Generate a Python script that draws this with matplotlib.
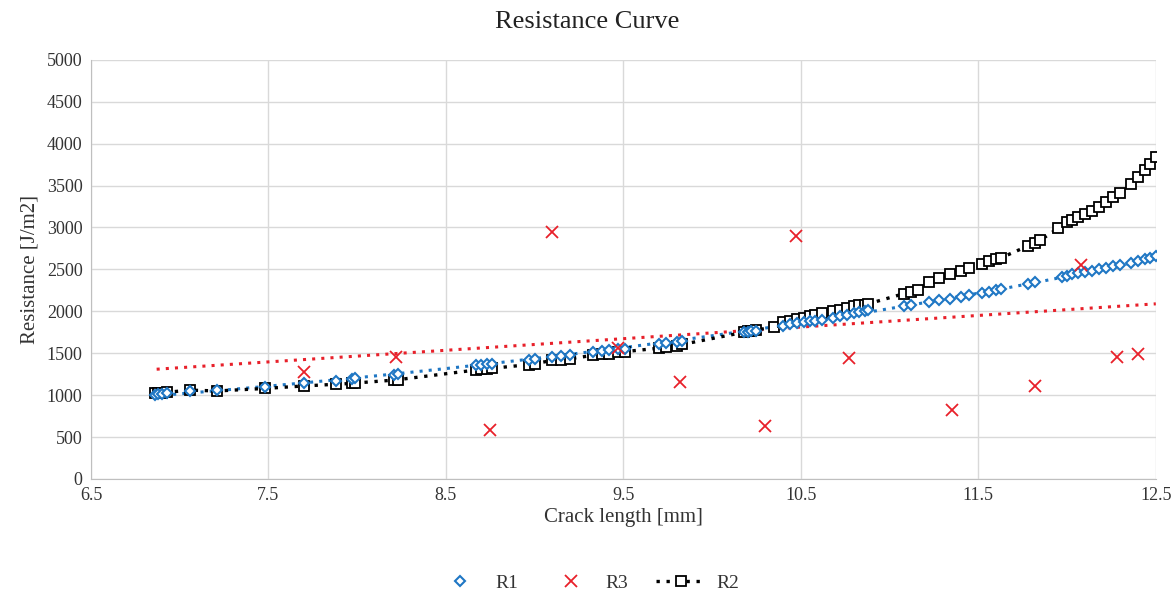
import numpy as np
import matplotlib
matplotlib.use("Agg")
import matplotlib.pyplot as plt
from matplotlib.lines import Line2D

plt.rcParams['font.family'] = ['Liberation Serif', 'DejaVu Serif']

# ---------------- data ----------------
r1_x = [6.86, 6.88, 6.90, 6.93, 7.06, 7.21, 7.48, 7.70, 7.88, 7.97, 7.99, 8.21, 8.23,
        8.67, 8.70, 8.73, 8.76, 8.97, 9.00, 9.10, 9.15, 9.20, 9.33, 9.38, 9.42, 9.47,
        9.51, 9.70, 9.74, 9.80, 9.83, 10.18, 10.20, 10.22, 10.25, 10.40, 10.44, 10.48,
        10.52, 10.55, 10.58, 10.62, 10.68, 10.72, 10.76, 10.80, 10.83, 10.86, 10.88,
        11.08, 11.12, 11.22, 11.28, 11.34, 11.40, 11.45, 11.52, 11.56, 11.60, 11.63,
        11.78, 11.82, 11.97, 12.00, 12.03, 12.06, 12.10, 12.14, 12.18, 12.22, 12.26,
        12.30, 12.36, 12.40, 12.44, 12.47, 12.50]
r1_y = [1005, 1010, 1015, 1020, 1045, 1060, 1100, 1140, 1170, 1195, 1200, 1245, 1250,
        1360, 1365, 1370, 1375, 1425, 1430, 1455, 1465, 1475, 1515, 1525, 1535, 1545,
        1555, 1610, 1620, 1640, 1650, 1750, 1755, 1760, 1770, 1830, 1845, 1855,
        1870, 1880, 1890, 1900, 1925, 1940, 1955, 1980, 1990, 2000, 2010,
        2060, 2075, 2110, 2130, 2150, 2170, 2190, 2215, 2230, 2250, 2265,
        2330, 2350, 2410, 2425, 2440, 2455, 2470, 2485, 2500, 2515, 2535,
        2555, 2580, 2600, 2620, 2640, 2660]

r2_x = [6.86, 6.88, 6.90, 6.93, 7.06, 7.21, 7.48, 7.70, 7.88, 7.97, 7.99, 8.21, 8.23,
        8.67, 8.70, 8.73, 8.76, 8.97, 9.00, 9.10, 9.15, 9.20, 9.33, 9.38, 9.42, 9.47,
        9.51, 9.70, 9.74, 9.80, 9.83, 10.18, 10.20, 10.22, 10.25, 10.35, 10.40, 10.44,
        10.48, 10.52, 10.55, 10.58, 10.62, 10.68, 10.72, 10.76, 10.80, 10.83, 10.86,
        10.88, 11.08, 11.12, 11.16, 11.22, 11.28, 11.34, 11.40, 11.45, 11.52, 11.56,
        11.60, 11.63, 11.78, 11.82, 11.85, 11.95, 12.00, 12.03, 12.06, 12.10, 12.14,
        12.18, 12.22, 12.26, 12.30, 12.36, 12.40, 12.44, 12.47, 12.50]
r2_y = [1025, 1030, 1030, 1035, 1060, 1050, 1080, 1110, 1130, 1140, 1145, 1180, 1185,
        1300, 1310, 1315, 1320, 1365, 1375, 1415, 1425, 1435, 1475, 1485, 1495, 1510,
        1520, 1560, 1575, 1590, 1605, 1750, 1760, 1765, 1780, 1810, 1870, 1890,
        1910, 1925, 1940, 1955, 1975, 2000, 2020, 2040, 2060, 2070, 2080,
        2090, 2210, 2230, 2250, 2350, 2400, 2440, 2480, 2520, 2570, 2600,
        2620, 2640, 2780, 2820, 2850, 2990, 3060, 3090, 3120, 3160, 3200,
        3240, 3300, 3360, 3410, 3520, 3600, 3680, 3760, 3840]

r3_x = [7.70, 8.22, 8.75, 9.10, 9.47, 9.82, 10.30, 10.47, 10.77, 11.35, 11.82, 12.08, 12.28, 12.40]
r3_y = [1280, 1460, 590, 2950, 1560, 1160, 630, 2900, 1440, 820, 1110, 2550, 1450, 1490]

# linear trend of R3 (slope, intercept)
r3_trend = (138.5, 358.0)

x_ticks = [6.5, 7.5, 8.5, 9.5, 10.5, 11.5, 12.5]
y_ticks = list(range(0, 5001, 500))

blue = '#1F77C4'
red = '#E8202A'
txt = '#333333'

fig = plt.figure(figsize=(11.74, 5.98), dpi=100)
ax = fig.add_axes([0.0775, 0.199, 0.907, 0.701])

# R1 exponential trend
c = np.polyfit(r1_x, np.log(r1_y), 1)
tx = np.linspace(min(r1_x), max(r1_x), 200)
ax.plot(tx, np.exp(np.polyval(c, tx)), color=blue, ls=(0, (1, 2)), lw=2.2, zorder=3)

# R3 linear trend
tx3 = np.linspace(6.87, 12.5, 50)
ax.plot(tx3, r3_trend[0] * tx3 + r3_trend[1], color=red, ls=(0, (1, 2)), lw=2.2, zorder=2)

# R2
ax.plot(r2_x, r2_y, color='black', ls=(0, (1, 2)), lw=2.4, marker='s', ms=7,
        mfc='white', mec='black', mew=1.3, zorder=4)
# R1
ax.plot(r1_x, r1_y, ls='none', marker='D', ms=5, mfc='white', mec=blue, mew=1.5, zorder=5)
# R3
ax.plot(r3_x, r3_y, ls='none', marker='x', ms=8, mec=red, mew=1.3, zorder=6)

ax.set_xlim(6.5, 12.5)
ax.set_ylim(0, 5000)
ax.set_xticks(x_ticks)
ax.set_xticklabels([str(v) for v in x_ticks])
ax.set_yticks(y_ticks)
ax.grid(True, color='#d9d9d9', lw=1)
ax.set_axisbelow(True)
for s in ['top', 'right']:
    ax.spines[s].set_visible(False)
for s in ['left', 'bottom']:
    ax.spines[s].set_color('#bfbfbf')
ax.tick_params(length=0, labelsize=13, colors=txt, pad=6)
ax.set_xlabel('Crack length [mm]', fontsize=15, color=txt, labelpad=3)
ax.set_ylabel('Resistance [J/m2]', fontsize=15, color=txt, labelpad=5)
fig.suptitle('Resistance Curve', fontsize=19, color='#222222', y=0.982)

handles = [
    Line2D([], [], ls='none', marker='D', ms=5, mfc='white', mec=blue, mew=1.5),
    Line2D([], [], ls='none', marker='x', ms=8, mec=red, mew=1.3),
    Line2D([], [], color='black', ls=(0, (1, 2)), lw=2.4, marker='s', ms=7,
           mfc='white', mec='black', mew=1.3),
]
fig.legend(handles, ['R1', 'R3', 'R2'], loc='center', bbox_to_anchor=(0.5, 0.025),
           ncol=3, frameon=False, fontsize=14, handlelength=2.6, handletextpad=0.5,
           columnspacing=1.4, labelcolor=txt)

fig.savefig('out.png', dpi=100)
